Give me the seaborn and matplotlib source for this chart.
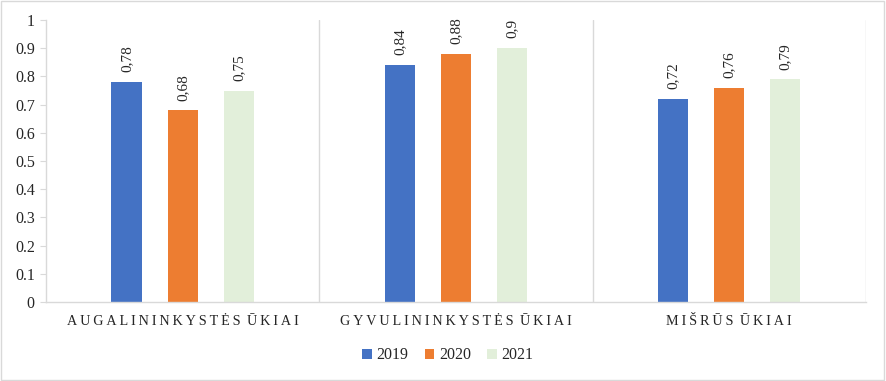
import pandas as pd
import numpy as np
import matplotlib
matplotlib.use('Agg')
import matplotlib.pyplot as plt
import seaborn as sns
from matplotlib.patches import Rectangle

# data
categories = ['AUGALININKYSTĖS ŪKIAI', 'GYVULININKYSTĖS ŪKIAI', 'MIŠRŪS ŪKIAI']
years = ['2019', '2020', '2021']
v2019 = [0.78, 0.84, 0.72]
v2020 = [0.68, 0.88, 0.76]
v2021 = [0.75, 0.90, 0.79]
colors = ['#4472C4', '#ED7D31', '#E2EFDA']

df = pd.DataFrame({
    'cat': categories * 3,
    'year': [y for y in years for _ in categories],
    'value': v2019 + v2020 + v2021,
})

sns.set_style('white')
plt.rcParams['font.family'] = ['Liberation Serif', 'DejaVu Serif']

fig = plt.figure(figsize=(8.86, 3.81), dpi=100)
ax = fig.add_axes([0.0519, 0.2073, 0.9255, 0.7402])

sns.barplot(data=df, x='cat', y='value', hue='year', palette=colors,
            saturation=1, width=0.615, gap=0.46, ax=ax, legend=True,
            edgecolor='none')

# data labels
for cont in ax.containers:
    for bar in cont:
        h = bar.get_height()
        lbl = ('%g' % h).replace('.', ',')
        ax.annotate(lbl, (bar.get_x() + bar.get_width() / 2, h),
                    xytext=(0, 7), textcoords='offset points',
                    rotation=90, ha='center', va='bottom', fontsize=11)

ax.set_ylim(0, 1)
ax.set_xlim(-0.5, 2.5)
ax.set_yticks(np.arange(0, 1.01, 0.1))
ax.set_yticklabels(['0'] + ['%.1f' % t for t in np.arange(0.1, 0.95, 0.1)] + ['1'], fontsize=11.5)

# letter spaced category labels
def spaced(s):
    return '\u2009 '.join('\u2009'.join(w) for w in s.split(' '))
ax.set_xticks([0, 1, 2])
ax.set_xticklabels([spaced(c) for c in categories], fontsize=10.2)
ax.tick_params(axis='x', length=0, pad=9)
ax.tick_params(axis='y', length=4, color='#d9d9d9', left=True, pad=4)
ax.set_xlabel('')
ax.set_ylabel('')

for s in ['top', 'right']:
    ax.spines[s].set_visible(False)
for s in ['left', 'bottom']:
    ax.spines[s].set_color('#d9d9d9')
    ax.spines[s].set_linewidth(1)

# category separators
for x in [0.5, 1.5, 2.5]:
    ax.axvline(x, color='#d9d9d9', lw=1, zorder=0)

leg = ax.legend(loc='upper center', bbox_to_anchor=(0.49, -0.11), ncol=3,
                frameon=False, fontsize=11.5, handlelength=0.6, handleheight=0.6,
                handletextpad=0.3, columnspacing=1.0)

fig.add_artist(Rectangle((0.001, 0.002), 0.997, 0.995, transform=fig.transFigure,
                         fill=False, edgecolor='#d9d9d9', lw=1))

fig.savefig('out.png', dpi=100)
